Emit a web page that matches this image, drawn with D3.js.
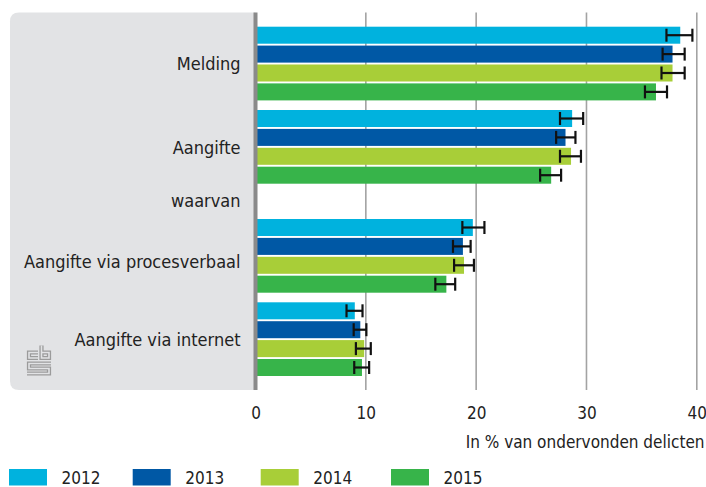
<!DOCTYPE html>
<html>
<head>
<meta charset="utf-8">
<script src="https://cdn.jsdelivr.net/npm/d3@7/dist/d3.min.js"></script>
<style>
  html, body { margin: 0; padding: 0; background: #fff; }
  svg { display: block; }
  text { font-family: "DejaVu Sans Condensed", "DejaVu Sans", sans-serif; font-stretch: condensed; fill: #222; }
</style>
</head>
<body>
<svg id="chart" width="706" height="487"></svg>
<script>
// Categories (top to bottom) and the sub-heading placed after "Aangifte"
const categories = ["Melding", "Aangifte", "Aangifte via procesverbaal", "Aangifte via internet"];
const subHeading = "waarvan";
const subHeadingAfter = "Aangifte";

const years = ["2012", "2013", "2014", "2015"];
const colors = ["#00b2de", "#0058a5", "#a8ce38", "#37b44a"];

// Share of experienced offences (%) per category, per year
const values2012 = [38.5, 28.7, 19.7, 9.0];
const values2013 = [37.8, 28.1, 18.8, 9.5];
const values2014 = [37.8, 28.6, 18.9, 9.85];
const values2015 = [36.3, 26.8, 17.3, 9.65];

// Confidence interval bounds (%)
const low2012  = [37.25, 27.6, 18.75, 8.25];
const high2012 = [39.6, 29.7, 20.75, 9.7];
const low2013  = [36.9, 27.25, 17.9, 8.9];
const high2013 = [38.9, 29.0, 19.5, 10.05];
const low2014  = [36.8, 27.6, 18.0, 9.1];
const high2014 = [38.9, 29.5, 19.8, 10.45];
const low2015  = [35.3, 25.8, 16.3, 8.95];
const high2015 = [37.3, 27.7, 18.1, 10.3];

const xTicks = [0, 10, 20, 30, 40];
const xTitle = "In % van ondervonden delicten";

const series = [
  { year: years[0], color: colors[0], values: values2012, low: low2012, high: high2012 },
  { year: years[1], color: colors[1], values: values2013, low: low2013, high: high2013 },
  { year: years[2], color: colors[2], values: values2014, low: low2014, high: high2014 },
  { year: years[3], color: colors[3], values: values2015, low: low2015, high: high2015 }
];

const svg = d3.select("#chart");

// ---- layout ----
const panel = { left: 10, top: 12.5, right: 255.5, bottom: 390 };
const x = d3.scaleLinear().domain([0, 40]).range([255.5, 696.8]);

const firstTop = 26.7, groupBlock = 83.3, subRow = 25.7;
const yInner = d3.scaleBand().domain(years).range([0, 73.7]).paddingInner(0.1).paddingOuter(0);

// stack the groups and the sub-heading row vertically
const groupTop = {};
let cursor = firstTop, subHeadingY = 0;
categories.forEach(c => {
  groupTop[c] = cursor;
  cursor += groupBlock;
  if (c === subHeadingAfter) { subHeadingY = cursor; cursor += subRow; }
});
const labelShift = { "Aangifte via procesverbaal": 5 };

// ---- grey label panel with rounded left corners ----
const r = 9;
svg.append("path")
  .attr("d", `M${panel.right},${panel.top} H${panel.left + r} Q${panel.left},${panel.top} ${panel.left},${panel.top + r}
              V${panel.bottom - r} Q${panel.left},${panel.bottom} ${panel.left + r},${panel.bottom} H${panel.right} Z`)
  .attr("fill", "#e2e3e5");

// ---- gridlines ----
svg.append("g").selectAll("line")
  .data(xTicks.filter(d => d > 0))
  .join("line")
  .attr("x1", d => x(d)).attr("x2", d => x(d))
  .attr("y1", panel.top).attr("y2", panel.bottom)
  .attr("stroke", "#a3a3a3").attr("stroke-width", 1.6);

// ---- bars ----
const barG = svg.append("g");
series.forEach(s => {
  const rows = categories.map((c, i) => ({ c, v: s.values[i], lo: s.low[i], hi: s.high[i] }));
  barG.append("g").selectAll("rect")
    .data(rows)
    .join("rect")
    .attr("x", x(0))
    .attr("y", d => groupTop[d.c] + yInner(s.year))
    .attr("width", d => x(d.v) - x(0))
    .attr("height", yInner.bandwidth())
    .attr("fill", s.color);

  // error bars
  const eg = barG.append("g").attr("stroke", "#111").attr("stroke-width", 2.2).attr("fill", "none");
  rows.forEach(d => {
    const cy = groupTop[d.c] + yInner(s.year) + yInner.bandwidth() / 2;
    eg.append("line").attr("x1", x(d.lo)).attr("x2", x(d.hi)).attr("y1", cy).attr("y2", cy);
    eg.append("line").attr("x1", x(d.lo)).attr("x2", x(d.lo)).attr("y1", cy - 6.5).attr("y2", cy + 6.5);
    eg.append("line").attr("x1", x(d.hi)).attr("x2", x(d.hi)).attr("y1", cy - 6.5).attr("y2", cy + 6.5);
  });
});

// ---- vertical zero axis ----
svg.append("line")
  .attr("x1", x(0)).attr("x2", x(0))
  .attr("y1", panel.top).attr("y2", panel.bottom)
  .attr("stroke", "#8a8a8a").attr("stroke-width", 4);

// ---- category labels ----
const labelX = 240.5;
svg.append("g").selectAll("text")
  .data(categories)
  .join("text")
  .attr("x", labelX)
  .attr("y", c => groupTop[c] + 36.5 + 7 + (labelShift[c] || 0))
  .attr("text-anchor", "end")
  .attr("font-size", 18)
  .text(c => c);

svg.append("text")
  .attr("x", labelX)
  .attr("y", subHeadingY + 13.4)
  .attr("text-anchor", "end")
  .attr("font-size", 18)
  .text(subHeading);

// ---- x axis tick labels ----
const xAxis = d3.axisBottom(x).tickValues(xTicks).tickSize(0).tickPadding(0);
const axisG = svg.append("g").attr("transform", "translate(0,419)").call(xAxis);
axisG.select(".domain").remove();
axisG.selectAll("text")
  .attr("dy", 0).attr("y", 0)
  .attr("font-size", 17)
  .style("font-family", null)
  .attr("fill", "#222");
axisG.attr("font-family", null);

svg.append("text")
  .attr("x", 704.5).attr("y", 448.3)
  .attr("text-anchor", "end")
  .attr("font-size", 17)
  .text(xTitle);

// ---- legend ----
const legendX = [9, 132.7, 260.7, 391];
const lg = svg.append("g").selectAll("g")
  .data(series)
  .join("g")
  .attr("transform", (d, i) => `translate(${legendX[i]},469)`);
lg.append("rect").attr("width", 38).attr("height", 16.5).attr("fill", d => d.color);
lg.append("text").attr("x", 52.5).attr("y", 15).attr("font-size", 17).text(d => d.year);

// ---- CBS logo (outlined strokes) ----
const logo = svg.append("g").attr("fill", "none").attr("stroke-linejoin", "miter").attr("stroke-linecap", "butt");
const logoPaths = [
  "M38,352.5 H29 V358 H38",            // c
  "M41.5,345.5 V358 H49 V352.5 H41.5", // b
  "M51,363.5 H29 V368.5 H49 V373.5 H27" // S
];
logo.selectAll("path.o").data(logoPaths).join("path").attr("class", "o")
  .attr("d", d => d).attr("stroke", "#9b9b9b").attr("stroke-width", 4.2);
logo.selectAll("path.i").data(logoPaths).join("path").attr("class", "i")
  .attr("d", d => d).attr("stroke", "#e2e3e5").attr("stroke-width", 1.6);
</script>
</body>
</html>
